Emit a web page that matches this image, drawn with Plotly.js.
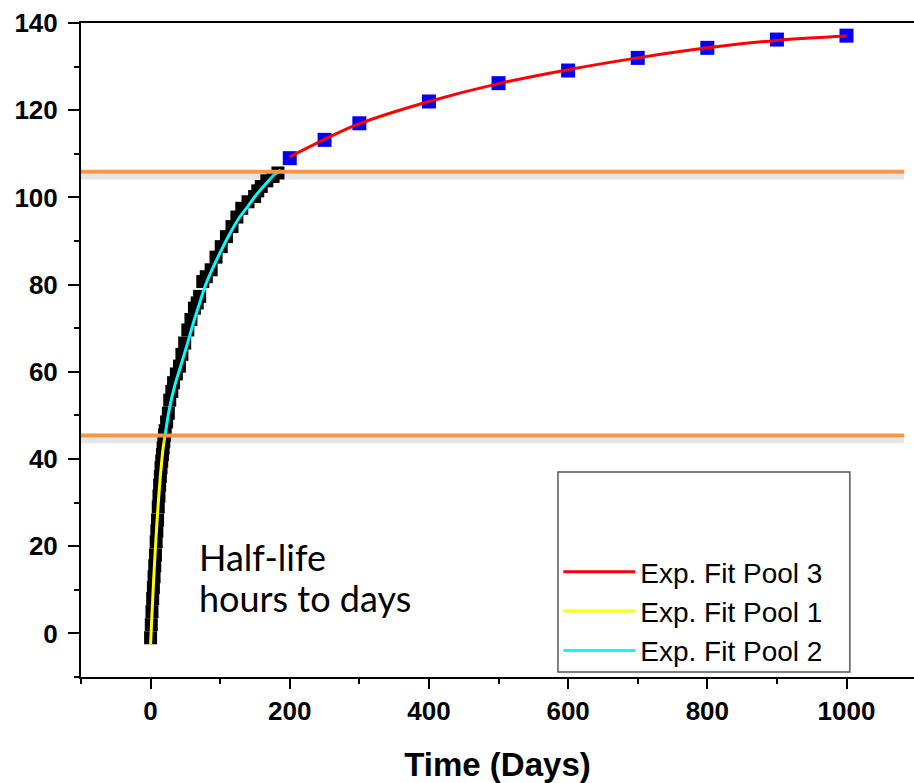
<!DOCTYPE html>
<html>
<head>
<meta charset="utf-8">
<script src="https://cdn.plot.ly/plotly-3.0.1.min.js"></script>
<style>html,body{margin:0;padding:0;background:#fff;}#chart{width:914px;height:783px;}</style>
</head>
<body>
<div id="chart"></div>
<script>
// Measured data (black squares: early samples)
const blackDays = [0,1,2,3,4,5,6,7,8,9,10,11,12,13,14,15,16,17,18,19,20,21,
  23,25.5,27.5,30.5,33,37,41.5,45,49,53.5,58,63,67,70.5,75,80,87,94,101.5,109,117,124,131,140,149.5,154,159,167,176,183];
const blackVals = [-1,2,5,8,10.5,13,15.5,18,21,23.5,26,29,31.5,34,36,38,39.5,41,42.5,44,45.5,46.5,
  48.5,50.5,53.5,55.5,57.5,59.5,61.3,64,66.6,69.6,72,74.6,75.8,77.3,80.7,81.8,83.4,86.3,88.7,91,93.3,95.5,97.5,99,100.2,101.5,102.5,103.8,104.8,105.6];
// Blue squares: late samples
const blueDays = [200,250,300,400,500,600,700,800,900,1000];
const blueVals = [109,113.2,117,122,126.2,129.1,132,134.3,136.2,137.1];
// Fit curves
const pool1Days = [0,2,4,6,8,10,12,14,16,18,21];
const pool1Vals = [-2.5,4.5,11,17,22.5,27.5,32,36,39.5,42.5,45.5];
const pool2Days = [21,27,35,43,53,62,70,78,90,102,115,128,140,150,165,178,187];
const pool2Vals = [45.5,51.5,57,61.2,66.5,71.5,75.5,79.5,84,88,92,95.5,98,100.2,103,105.2,106.3];
const pool3Days = [200,250,300,400,500,600,700,800,900,1000];
const pool3Vals = [109.3,113.3,116.9,122,126.1,129.3,132,134.3,136,137];
// Reference levels (orange lines)
const levelVals = [105.9, 45.4];
const levelSpan = [-100, 1083];
// Text
const legendNames = ['Exp. Fit Pool 3','Exp. Fit Pool 1','Exp. Fit Pool 2'];
const noteLines = ['Half-life','hours to days'];
const xTitle = 'Time (Days)';
const xTicks = [0,200,400,600,800,1000];
const yTicks = [0,20,40,60,80,100,120,140];

const tickFont = {family:"'Liberation Sans', Arial, sans-serif", size:26, color:'#000', weight:'bold'};

const traces = [
  {x:blackDays, y:blackVals, mode:'markers', type:'scatter', showlegend:false,
   marker:{symbol:'square', size:13, color:'#000'}},
  {x:blueDays, y:blueVals, mode:'markers', type:'scatter', showlegend:false,
   marker:{symbol:'square', size:14, color:'#0000FF'}},
  {x:pool1Days, y:pool1Vals, mode:'lines', type:'scatter', name:legendNames[1], legendrank:2,
   line:{color:'#FFFF00', width:3, shape:'spline'}},
  {x:pool2Days, y:pool2Vals, mode:'lines', type:'scatter', name:legendNames[2], legendrank:3,
   line:{color:'#00FFFF', width:3, shape:'spline'}},
  {x:pool3Days, y:pool3Vals, mode:'lines', type:'scatter', name:legendNames[0], legendrank:1,
   line:{color:'#FF0000', width:3, shape:'spline'}}
];

const shapes = [];
levelVals.forEach(v => {
  shapes.push({type:'line', xref:'x', yref:'y', x0:levelSpan[0], x1:levelSpan[1], y0:v-1.1, y1:v-1.1,
    line:{color:'rgba(0,0,0,0.10)', width:6}, layer:'above'});
  shapes.push({type:'line', xref:'x', yref:'y', x0:levelSpan[0], x1:levelSpan[1], y0:v, y1:v,
    line:{color:'#F79646', width:4}, layer:'above'});
});
// legend frame
shapes.push({type:'rect', xref:'paper', yref:'paper', x0:0.5726, x1:0.923, y0:0.0076, y1:0.3135,
  line:{color:'#555', width:1.5}, fillcolor:'rgba(255,255,255,0)', layer:'below'});

const noteFont = {family:"Lato, 'Open Sans', sans-serif", size:36, color:'#000'};
const annotations = [
  {x:67, y:17.5, xref:'x', yref:'y', text:noteLines[0], showarrow:false, xanchor:'left', yanchor:'middle', font:noteFont},
  {x:67, y:8.2, xref:'x', yref:'y', text:noteLines[1], showarrow:false, xanchor:'left', yanchor:'middle', font:noteFont}
];

const layout = {
  width:914, height:783,
  margin:{l:81, r:0, t:23, b:106},
  paper_bgcolor:'#fff', plot_bgcolor:'#fff',
  showlegend:true,
  legend:{x:0.573, y:0.0015, xanchor:'left', yanchor:'bottom', bgcolor:'rgba(0,0,0,0)', borderwidth:0,
    font:{family:"'Liberation Sans', Arial, sans-serif", size:28, color:'#000'}, itemwidth:72, tracegroupgap:0},
  xaxis:{range:[-100,1097], tickvals:xTicks, ticktext:xTicks.map(String), ticks:'outside', ticklen:10, tickwidth:2,
    tickcolor:'#000', showline:true, linecolor:'#000', linewidth:2, mirror:true, showgrid:false, zeroline:false,
    tickfont:tickFont, ticklabelstandoff:0,
    minor:{dtick:100, tick0:0, ticks:'outside', ticklen:5, tickwidth:2, tickcolor:'#000', showgrid:false},
    title:{text:xTitle, font:{family:"'Liberation Sans', Arial, sans-serif", size:33, color:'#000', weight:'bold'}}},
  yaxis:{range:[-10,140], tickvals:yTicks, ticktext:yTicks.map(String), ticks:'outside', ticklen:11, tickwidth:2,
    tickcolor:'#000', showline:true, linecolor:'#000', linewidth:2, mirror:false, showgrid:false, zeroline:false,
    tickfont:tickFont, ticklabelstandoff:5,
    minor:{dtick:10, tick0:0, ticks:'outside', ticklen:5, tickwidth:2, tickcolor:'#000', showgrid:false}},
  shapes:shapes,
  annotations:annotations
};

Plotly.newPlot('chart', traces, layout, {staticPlot:true, displayModeBar:false});
</script>
</body>
</html>
